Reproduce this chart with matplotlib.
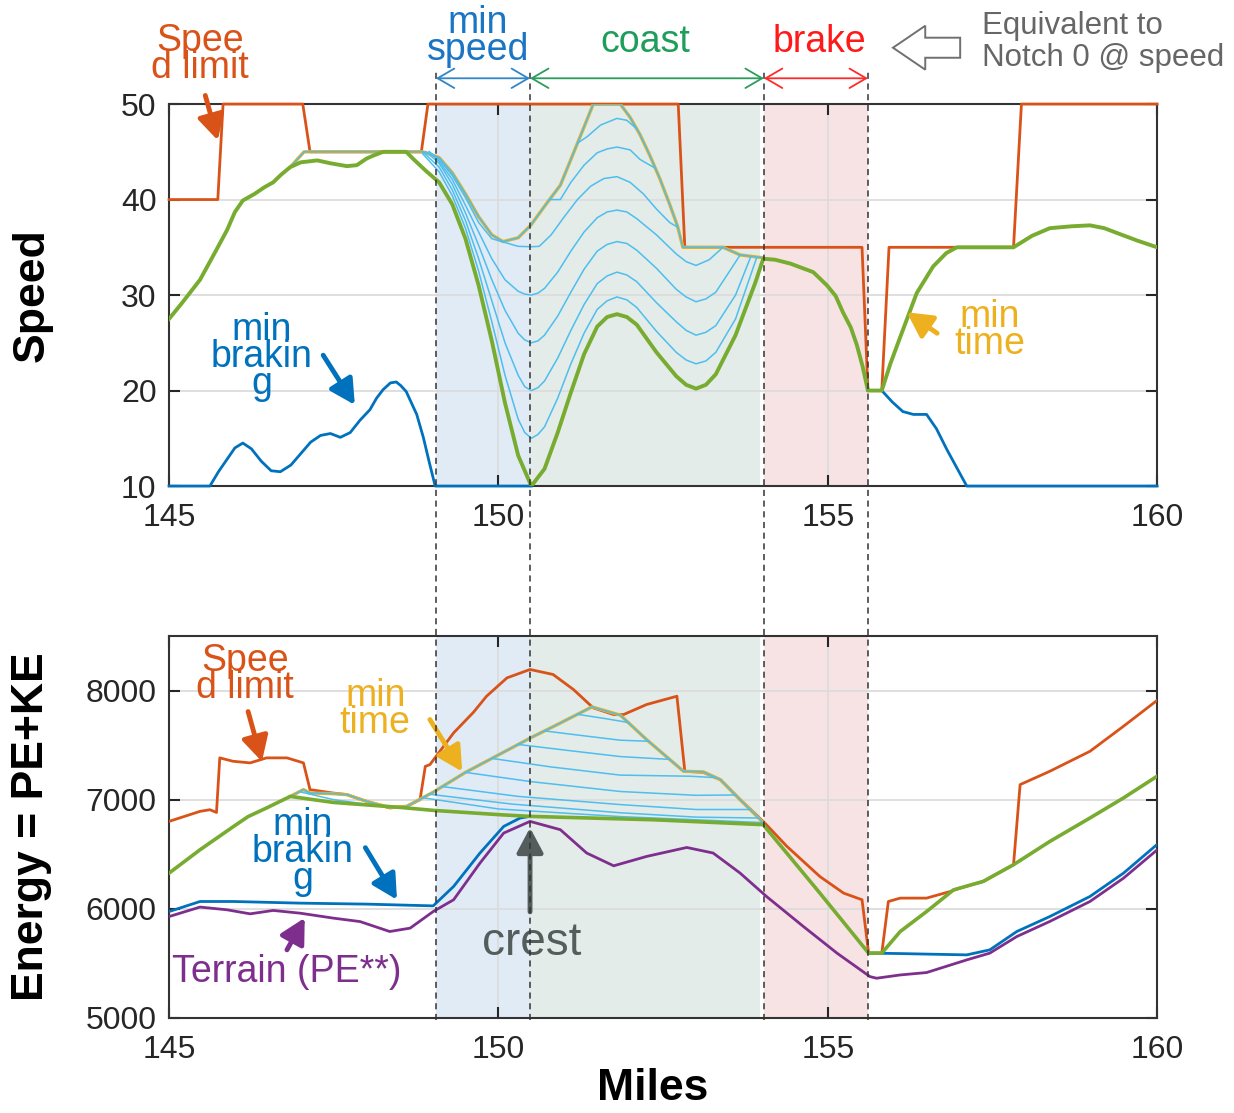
import numpy as np
import matplotlib
matplotlib.use("Agg")
from matplotlib import pyplot as plt
from matplotlib.lines import Line2D
from matplotlib.patches import Polygon
from matplotlib.transforms import blended_transform_factory

plt.rcParams['font.family'] = ['Liberation Sans', 'DejaVu Sans']

# ---------------- colours ----------------
C_LIM = '#D95319'
C_GRN = '#77AC30'
C_BLU = '#0072BD'
C_CYA = '#4DBEEE'
C_YEL = '#EDB120'
C_PUR = '#7E2F8E'

# ---------------- zones (miles) ----------------
zone_edges = [149.05, 150.48, 154.03, 155.61]
coast_end = 153.97

# ================= SPEED (top) =================
lim_mi = [145, 145.74, 145.82, 147.03, 147.14, 148.83, 148.93, 152.73, 152.83,
          155.52, 155.61, 155.82, 155.93, 157.82, 157.94, 160]
lim_spd = [40, 40, 50, 50, 45, 45, 50, 50, 35, 35, 20, 20, 35, 35, 50, 50]

grn_mi = [145, 145.2, 145.47, 145.7, 145.88, 146.0, 146.12, 146.3, 146.45, 146.58,
          146.7, 146.84, 147.0, 147.25, 147.45, 147.7, 147.85, 148.0, 148.1, 148.25,
          148.5, 148.6, 148.7, 148.9, 149.1, 149.3, 149.5, 149.7, 149.9, 150.1,
          150.3, 150.5, 150.7, 150.9, 151.1, 151.3, 151.5, 151.65, 151.8, 151.95,
          152.1, 152.4, 152.7, 152.85, 153.0, 153.15, 153.3, 153.6, 153.9, 154.02,
          154.2, 154.43, 154.78, 154.99, 155.12, 155.23, 155.35, 155.44, 155.53, 155.61,
          155.82, 155.95, 156.1, 156.35, 156.6, 156.8, 156.96, 157.82, 158.1, 158.37,
          158.7, 158.98, 159.2, 159.39, 159.7, 160]
grn_spd = [27.5, 29.2, 31.6, 34.5, 36.8, 38.7, 39.9, 40.6, 41.3, 41.8,
           42.6, 43.4, 43.9, 44.1, 43.8, 43.5, 43.6, 44.3, 44.6, 45.0,
           45.0, 45.0, 44.3, 43.0, 41.8, 39.5, 35.9, 31.0, 25.2, 18.7,
           13.2, 10.0, 11.8, 15.6, 19.8, 23.8, 26.7, 27.7, 28.0, 27.7,
           26.9, 24.0, 21.5, 20.6, 20.2, 20.6, 21.7, 25.8, 31.3, 33.8,
           33.7, 33.3, 32.4, 31.0, 29.9, 28.2, 26.6, 24.8, 22.5, 20.0,
           20.0, 22.8, 25.6, 30.2, 33.0, 34.4, 35.0, 35.0, 36.2, 37.0,
           37.2, 37.3, 37.0, 36.5, 35.7, 35.0]

yel_mi = [146.84, 147.05, 148.85, 148.9, 149.1, 149.3, 149.5, 149.7, 149.9, 150.07,
          150.3, 150.49, 150.7, 150.94, 151.1, 151.3, 151.44, 151.85, 152.0, 152.15,
          152.3, 152.45, 152.6, 152.72, 152.8, 153.41, 153.67, 154.02]
yel_spd = [43.4, 45.0, 45.0, 44.9, 44.4, 42.8, 40.6, 38.2, 36.3, 35.6,
           36.0, 37.3, 39.3, 41.5, 44.2, 47.6, 50.0, 50.0, 48.6, 46.8,
           44.6, 42.2, 39.5, 37.2, 35.0, 35.0, 34.2, 33.9]

blu_mi_a = [145, 145.62, 145.75, 146.0, 146.12, 146.25, 146.4, 146.55, 146.69, 146.85,
            147.0, 147.15, 147.3, 147.45, 147.6, 147.75, 147.9, 148.05, 148.15, 148.25,
            148.36, 148.45, 148.52, 148.6, 148.66, 148.76, 148.86, 148.95, 149.04, 150.5]
blu_spd_a = [10, 10, 11.5, 14.0, 14.5, 13.9, 12.6, 11.6, 11.5, 12.2,
             13.4, 14.6, 15.3, 15.5, 15.1, 15.6, 16.9, 18.0, 19.2, 20.1,
             20.8, 20.9, 20.5, 19.9, 19.0, 17.5, 15.1, 12.5, 10, 10]
blu_mi_b = [155.61, 155.82, 155.98, 156.14, 156.3, 156.5, 156.65, 156.81, 157.11, 160]
blu_spd_b = [20, 20, 18.8, 17.8, 17.5, 17.5, 16.0, 13.8, 10, 10]

# coasting trajectories (Notch 0 starting at different points)
cy_mi = [
    [151.2, 151.35, 151.55, 151.8, 151.95, 152.1],
    [150.77, 150.94, 151.1, 151.3, 151.5, 151.65, 151.8, 152.0, 152.15, 152.3, 152.38],
    [148.95, 149.1, 149.3, 149.5, 149.7, 149.9, 150.05, 150.3, 150.5, 150.62, 150.8,
     151.0, 151.2, 151.4, 151.6, 151.8, 152.0, 152.2, 152.4, 152.6, 152.72],
    [148.95, 149.1, 149.3, 149.5, 149.7, 149.9, 150.1, 150.3, 150.4, 150.5, 150.6,
     150.7, 150.9, 151.1, 151.3, 151.5, 151.65, 151.8, 151.95, 152.1, 152.4, 152.7,
     152.85, 153.0, 153.2, 153.41],
    [148.9, 149.1, 149.3, 149.5, 149.7, 149.9, 150.1, 150.3, 150.4, 150.5, 150.6,
     150.7, 150.9, 151.1, 151.3, 151.5, 151.65, 151.8, 151.95, 152.1, 152.4, 152.7,
     152.85, 153.0, 153.15, 153.3, 153.5, 153.67],
    [148.85, 149.1, 149.3, 149.5, 149.7, 149.9, 150.1, 150.3, 150.4, 150.5, 150.6,
     150.7, 150.9, 151.1, 151.3, 151.5, 151.65, 151.8, 151.95, 152.1, 152.4, 152.7,
     152.85, 153.0, 153.15, 153.3, 153.6, 153.83],
    [148.85, 149.1, 149.3, 149.5, 149.7, 149.9, 150.1, 150.3, 150.4, 150.5, 150.6,
     150.7, 150.9, 151.1, 151.3, 151.5, 151.65, 151.8, 151.95, 152.1, 152.4, 152.7,
     152.85, 153.0, 153.15, 153.3, 153.6, 153.92],
]
cy_spd = [
    [45.9, 46.6, 47.8, 48.5, 48.3, 47.4],
    [40.0, 40.0, 41.8, 43.6, 44.9, 45.3, 45.5, 45.2, 44.2, 43.6, 43.3],
    [45.0, 44.2, 42.5, 40.2, 37.6, 35.9, 35.6, 35.1, 35.06, 35.1, 36.3,
     38.2, 40.0, 41.4, 42.2, 42.4, 41.8, 40.6, 39.0, 37.6, 37.1],
    [45.0, 44.0, 42.1, 39.4, 36.6, 33.8, 31.6, 30.4, 30.1, 30.0, 30.2,
     30.7, 32.4, 34.6, 36.6, 38.1, 38.7, 38.9, 38.7, 38.0, 36.3, 34.3,
     33.5, 33.1, 33.7, 35.0],
    [45.0, 43.8, 41.6, 38.6, 35.2, 31.6, 28.4, 26.0, 25.3, 25.0, 25.2,
     25.8, 27.8, 30.3, 32.7, 34.6, 35.3, 35.6, 35.4, 34.7, 32.8, 30.6,
     29.8, 29.3, 29.6, 30.3, 32.4, 34.2],
    [45.0, 43.4, 41.0, 37.8, 33.8, 29.4, 25.0, 21.6, 20.4, 20.0, 20.3,
     21.0, 23.4, 26.3, 29.0, 31.2, 32.0, 32.4, 32.1, 31.4, 29.2, 27.2,
     26.3, 25.8, 26.1, 26.8, 30.0, 34.0],
    [44.8, 42.9, 40.4, 37.0, 32.5, 27.2, 21.6, 17.0, 15.6, 15.0, 15.4,
     16.2, 19.2, 22.8, 26.0, 28.5, 29.4, 29.8, 29.5, 28.7, 26.2, 24.0,
     23.2, 22.8, 23.1, 24.0, 27.5, 33.9],
]

# ================= ENERGY (bottom) =================
limE_mi = [145, 145.47, 145.62, 145.72, 145.77, 145.97, 146.23, 146.48, 146.79, 147.04,
           147.14, 147.49, 147.7, 148.0, 148.35, 148.61, 148.81, 148.89, 148.96, 149.32,
           149.62, 149.82, 150.13, 150.48, 150.83, 151.14, 151.44, 151.75, 151.9, 152.25,
           152.71, 152.83, 153.11, 153.37, 153.67, 154.02, 154.38, 154.88, 155.24, 155.52,
           155.62, 155.82, 155.92, 156.1, 156.5, 156.86, 157.01, 157.36, 157.82, 157.92,
           158.37, 158.98, 159.49, 160]
limE = [6801, 6893, 6908, 6883, 7383, 7352, 7337, 7383, 7383, 7337,
        7092, 7061, 7046, 6984, 6924, 6939, 7000, 7305, 7321, 7612,
        7800, 7948, 8116, 8193, 8147, 8009, 7841, 7780, 7780, 7872,
        7948, 7260, 7251, 7183, 7000, 6801, 6572, 6296, 6144, 6083,
        5594, 5594, 6067, 6098, 6098, 6159, 6190, 6251, 6404, 7138,
        7260, 7443, 7673, 7910]

grnE_mi = [145, 145.47, 145.98, 146.2, 146.48, 146.84, 147.49, 148.51, 149.01, 150.03,
           150.48, 152.35, 154.02, 154.88, 155.62, 155.82, 156.1, 156.5, 156.91, 157.36,
           157.82, 158.37, 158.98, 159.49, 160]
grnE = [6327, 6541, 6755, 6845, 6924, 7030, 6975, 6929, 6902, 6862,
        6847, 6816, 6771, 6144, 5594, 5594, 5792, 5975, 6174, 6251,
        6404, 6617, 6832, 7016, 7215]

yelE_mi = [146.84, 147.04, 147.14, 147.49, 147.7, 148.0, 148.35, 148.61, 148.81, 149.0,
           149.5, 150.0, 150.5, 150.9, 151.42, 151.85, 152.25, 152.81, 153.11, 153.37,
           153.67, 154.02]
yelE = [7030, 7092, 7061, 7055, 7046, 6984, 6929, 6939, 7005, 7065,
        7250, 7410, 7570, 7690, 7850, 7775, 7550, 7260, 7255, 7183,
        7000, 6790]

cyE_mi = [
    [147.0, 147.5, 148.1, 148.4],
    [151.2, 151.6, 151.85, 151.98],
    [150.7, 151.3, 151.85, 152.28],
    [150.3, 151.0, 151.85, 152.6],
    [149.9, 150.8, 151.85, 152.9, 153.3],
    [149.5, 150.5, 151.85, 153.0, 153.6],
    [149.15, 150.3, 151.85, 153.0, 153.82],
    [148.95, 150.2, 151.85, 153.0, 153.95],
    [148.85, 150.0, 151.85, 154.02],
]
cyE = [
    [7070, 7000, 6950, 6928],
    [7782, 7745, 7720, 7705],
    [7630, 7585, 7545, 7535],
    [7506, 7455, 7395, 7369],
    [7378, 7300, 7225, 7215, 7202],
    [7250, 7165, 7075, 7040, 7043],
    [7120, 7030, 6955, 6910, 6910],
    [7050, 6960, 6880, 6840, 6832],
    [7018, 6915, 6845, 6790],
]

bluE_mi_a = [145, 145.47, 145.98, 146.99, 148.0, 149.01, 149.32, 149.72, 150.08, 150.33, 150.48]
bluE_a = [5975, 6067, 6067, 6052, 6043, 6027, 6205, 6511, 6755, 6832, 6847]
bluE_mi_b = [155.62, 156.1, 156.5, 157.11, 157.46, 157.87, 158.37, 158.98, 159.49, 160]
bluE_b = [5594, 5590, 5585, 5578, 5624, 5792, 5929, 6113, 6327, 6590]

ter_mi = [145, 145.47, 145.88, 146.23, 146.58, 146.99, 147.49, 147.9, 148.35, 148.66,
          149.01, 149.32, 149.72, 150.08, 150.48, 150.94, 151.34, 151.75, 152.25, 152.86,
          153.26, 153.67, 154.07, 154.63, 155.14, 155.64, 155.74, 156.1, 156.5, 157.11,
          157.46, 157.87, 158.37, 158.98, 159.49, 160]
terE = [5929, 6016, 5991, 5954, 5985, 5960, 5915, 5883, 5792, 5823,
        5975, 6083, 6419, 6694, 6801, 6725, 6511, 6394, 6480, 6562,
        6511, 6327, 6113, 5838, 5594, 5379, 5364, 5394, 5416, 5532,
        5594, 5746, 5884, 6067, 6281, 6540]

# ---------------- figure ----------------
fig = plt.figure(figsize=(12.34, 11.13), dpi=100)
ax1 = fig.add_axes([0.137, 0.5633, 0.8007, 0.3432])
ax2 = fig.add_axes([0.137, 0.0854, 0.8007, 0.3432])


def style_axes(ax):
    ax.set_xlim(145, 160)
    ax.set_xticks([145, 150, 155, 160])
    ax.grid(True, color='#dcdcdc', lw=1.3)
    ax.set_axisbelow(True)
    ax.tick_params(direction='in', length=8, width=1.5, top=True, right=True,
                   labelsize=23, colors='#262626')
    ax.tick_params(axis='x', pad=12)
    ax.tick_params(axis='y', pad=9)
    for s in ax.spines.values():
        s.set_color('#333333')
        s.set_linewidth(1.5)
    ax.axvspan(zone_edges[0], zone_edges[1], color='#e1ebf6', lw=0, zorder=0.2)
    ax.axvspan(zone_edges[1], coast_end, color='#e3ece8', lw=0, zorder=0.2)
    ax.axvspan(zone_edges[2], zone_edges[3], color='#f7e2e4', lw=0, zorder=0.2)


style_axes(ax1)
style_axes(ax2)

# ---- top ----
ax1.set_ylim(10, 50)
ax1.set_yticks([10, 20, 30, 40, 50])
ax1.plot(lim_mi, lim_spd, color=C_LIM, lw=2, zorder=3, clip_on=False)
ax1.plot(yel_mi, yel_spd, color=C_YEL, lw=2.4, zorder=3.5)
for xs, ys in zip(cy_mi, cy_spd):
    ax1.plot(xs, ys, color=C_CYA, lw=1.1, zorder=3.6)
ax1.plot(yel_mi, yel_spd, color=C_CYA, lw=1.1, zorder=3.7)
ax1.plot(blu_mi_a, blu_spd_a, color=C_BLU, lw=2, zorder=3.8, clip_on=False)
ax1.plot(blu_mi_b, blu_spd_b, color=C_BLU, lw=2, zorder=3.8, clip_on=False)
ax1.plot(grn_mi, grn_spd, color=C_GRN, lw=2.8, zorder=4)
ax1.set_ylabel('Speed', fontsize=32, fontweight='bold')
ax1.yaxis.set_label_coords(-0.118, 0.5)

# ---- bottom ----
ax2.set_ylim(5000, 8500)
ax2.set_yticks([5000, 6000, 7000, 8000])
ax2.plot(ter_mi, terE, color=C_PUR, lw=2, zorder=3)
ax2.plot(limE_mi, limE, color=C_LIM, lw=2, zorder=3.2)
ax2.plot(yelE_mi, yelE, color=C_YEL, lw=2.4, zorder=3.5)
for xs, ys in zip(cyE_mi, cyE):
    ax2.plot(xs, ys, color=C_CYA, lw=1.1, zorder=3.6)
ax2.plot(yelE_mi, yelE, color=C_CYA, lw=1.1, zorder=3.7)
ax2.plot(bluE_mi_a, bluE_a, color=C_BLU, lw=2, zorder=3.8)
ax2.plot(bluE_mi_b, bluE_b, color=C_BLU, lw=2, zorder=3.8)
ax2.plot(grnE_mi, grnE, color=C_GRN, lw=2.6, zorder=4)
ax2.set_ylabel('Energy = PE+KE', fontsize=32, fontweight='bold')
ax2.yaxis.set_label_coords(-0.118, 0.5)
ax2.set_xlabel('Miles', fontsize=32, fontweight='bold')
ax2.xaxis.set_label_coords(0.489, -0.13)

# ---- zone boundaries through both panels ----
tr = blended_transform_factory(ax1.transData, fig.transFigure)
for x in zone_edges:
    fig.add_artist(Line2D([x, x], [0.0836, 0.937], transform=tr, color='#333333',
                          lw=1.1, ls=(0, (4, 3)), zorder=10))

# ---- zone arrows and titles ----
arr_y = 52.7
zone_cols = ['#2f86c9', '#2a9d5c', '#ff2a2a']
for (a, b), col in zip(zip(zone_edges[:-1], zone_edges[1:]), zone_cols):
    ax1.annotate('', xy=(b, arr_y), xytext=(a, arr_y), annotation_clip=False,
                 arrowprops=dict(arrowstyle='<->,head_length=0.6,head_width=0.35',
                                 color=col, lw=1.3, mutation_scale=20,
                                 shrinkA=0, shrinkB=0))
ax1.text(149.69, 57.1, 'min\nspeed', color='#1a75c4', fontsize=27, ha='center',
         va='center', linespacing=0.68, clip_on=False)
ax1.text(152.23, 56.5, 'coast', color='#1e9e5a', fontsize=27, ha='center',
         va='center', clip_on=False)
ax1.text(154.88, 56.5, 'brake', color='#ff1a1a', fontsize=27, ha='center',
         va='center', clip_on=False)

# hollow "equivalent" arrow
tip_x, tip_y = 155.99, 55.9
hx = [0, 0.49, 0.49, 1.02, 1.02, 0.49, 0.49]
hy = [0, 2.3, 1.05, 1.05, -1.05, -1.05, -2.3]
ax1.add_patch(Polygon(np.column_stack([tip_x + np.array(hx), tip_y + np.array(hy)]),
                      closed=True, facecolor='white', edgecolor='#707070', lw=1.4,
                      clip_on=False))
ax1.text(157.34, 56.5, 'Equivalent to\nNotch 0 @ speed', color='#666666', fontsize=22.5,
         ha='left', va='center', linespacing=1.05, clip_on=False)


def callout(ax, text, pos, tail, head, color, size=27):
    ax.text(pos[0], pos[1], text, color=color, fontsize=size, ha='center', va='center',
            linespacing=0.68, clip_on=False, zorder=6)
    ax.annotate('', xy=head, xytext=tail, annotation_clip=False, zorder=6,
                arrowprops=dict(arrowstyle='-|>,head_length=0.75,head_width=0.4',
                                color=color, lw=3.5, mutation_scale=20,
                                shrinkA=0, shrinkB=0))


callout(ax1, 'Spee\nd limit', (145.47, 55.2), (145.55, 50.9), (145.74, 46.2), C_LIM)
callout(ax1, 'min\nbrakin\ng', (146.41, 23.5), (147.34, 23.7), (147.82, 18.5), C_BLU)
callout(ax1, 'min\ntime', (157.46, 26.3), (156.66, 26.0), (156.2, 28.2), C_YEL)

callout(ax2, 'Spee\nd limit', (146.15, 8147), (146.2, 7807), (146.41, 7349), C_LIM)
callout(ax2, 'min\ntime', (148.13, 7826), (148.96, 7734), (149.45, 7257), C_YEL)
callout(ax2, 'min\nbrakin\ng', (147.03, 6523), (147.98, 6560), (148.46, 6083), C_BLU)
callout(ax2, 'Terrain (PE**)', (146.78, 5422), (146.79, 5624), (147.06, 5917), C_PUR)
callout(ax2, 'crest', (150.5, 5690), (150.48, 5972), (150.48, 6743), '#555c5c', size=33)

fig.savefig('out.png', dpi=100)
